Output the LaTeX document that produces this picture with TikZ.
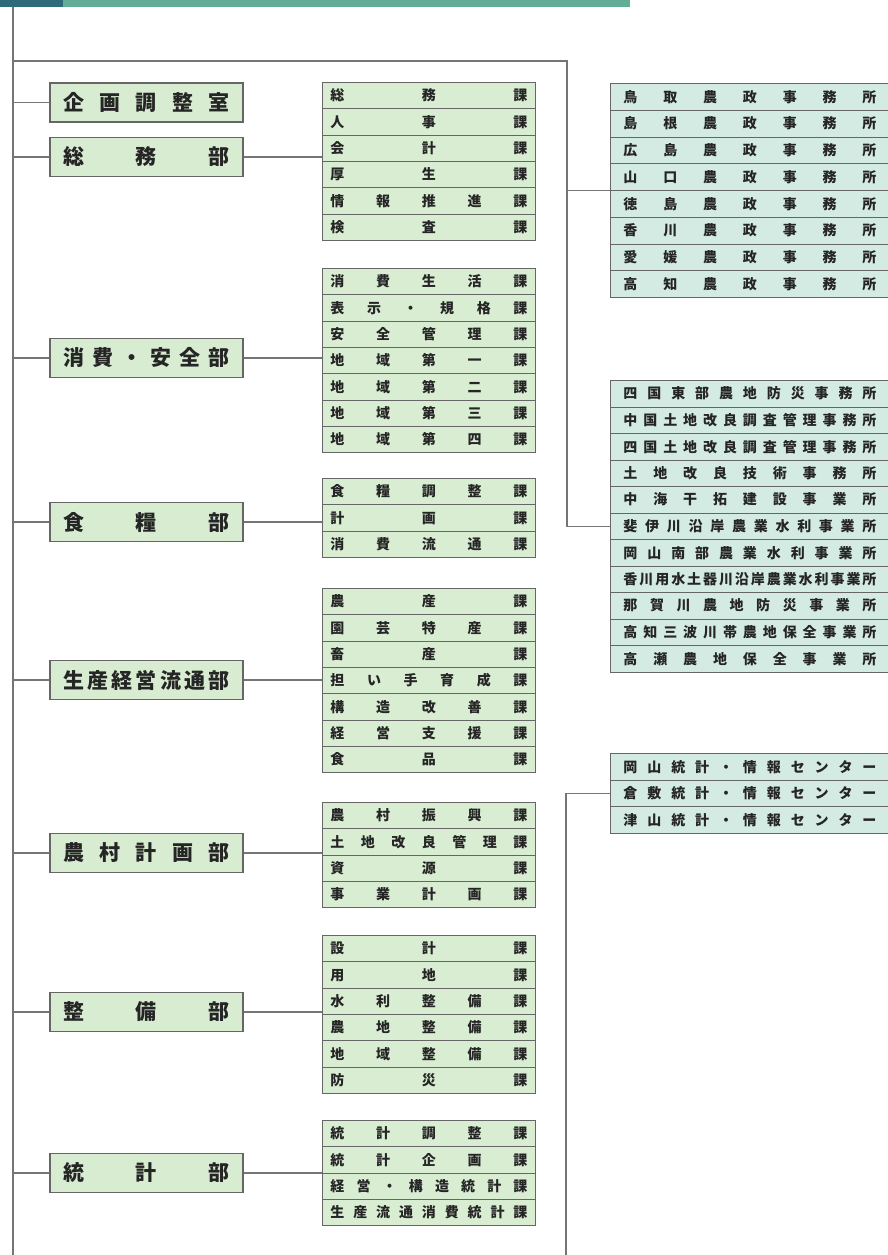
\documentclass[tikz,border=0pt]{standalone}
\usepackage{fontspec}
\newfontfamily\jp{Noto Sans CJK JP}
\definecolor{barteal}{HTML}{62AD97}
\definecolor{bardark}{HTML}{2F6A7A}
\definecolor{linegray}{HTML}{757575}
\definecolor{boxline}{HTML}{666666}
\definecolor{deptfill}{HTML}{D8ECD2}
\definecolor{midfill}{HTML}{D9EDD3}
\definecolor{rightfill}{HTML}{D4EBE4}
\definecolor{txt}{HTML}{252525}
\def\sprA#1#2\sprend{#1\ifx\relax#2\relax\else\hfill\sprA#2\sprend\fi}
\newcommand\spr[2]{\hbox to #1{\expandafter\sprA#2\sprend}}
\newcommand\sprd[2]{\hbox to #1{\sprA#2\sprend}}
\tikzset{
  conn/.style={draw=linegray, line width=1.3pt},
  dept/.style={draw=boxline, line width=1.2pt, fill=deptfill, minimum width=193pt,
    minimum height=39pt, inner sep=0pt, text=txt, font=\jp\bfseries\fontsize{21}{21}\selectfont},
  midrow/.style={draw=boxline, line width=0.9pt, fill=midfill, inner sep=0pt, text=txt,
    font=\jp\bfseries\fontsize{14}{14}\selectfont},
  rightrow/.style={draw=boxline, line width=0.9pt, fill=rightfill, inner sep=0pt, text=txt,
    font=\jp\bfseries\fontsize{14}{14}\selectfont},
  tblframe/.style={draw=boxline, line width=1.2pt, inner sep=0pt},
}
% #1 name, #2 left x, #3 top y, #4 width, #5 row height, #6 style, #7 text width, #8 rows, #9 list
\newcommand\mktable[9]{%
  \foreach \t [count=\i] in {#9} {
    \node[#6, minimum width=#4pt, minimum height=#5pt, anchor=north west]
      (#1-\i) at (#2, {#3+(\i-1)*#5}) {\spr{#7pt}{\t}};
  }
  \node[tblframe, minimum width=#4pt, minimum height={#8*#5}, anchor=north west] (#1) at (#2,#3) {};
}
\begin{document}
\begin{tikzpicture}[x=1pt, y=-1pt]
\useasboundingbox (0,0) rectangle (888,1255);
\fill[white] (0,0) rectangle (888,1255);
% header bar
\fill[barteal] (0,0) rectangle (630,7);
\fill[bardark] (0,0) rectangle (63,7);

% department boxes
\node[dept] (d1) at (146.5,102.5) {\sprd{167pt}{企画調整室}};
\node[dept] (d2) at (146.5,157)   {\sprd{167pt}{総務部}};
\node[dept] (d3) at (146.5,358)   {\sprd{167pt}{消費・安全部}};
\node[dept] (d4) at (146.5,522)   {\sprd{167pt}{食糧部}};
\node[dept] (d5) at (146.5,680)   {\sprd{167pt}{生産経営流通部}};
\node[dept] (d6) at (146.5,853)   {\sprd{167pt}{農村計画部}};
\node[dept] (d7) at (146.5,1012)  {\sprd{167pt}{整備部}};
\node[dept] (d8) at (146.5,1173)  {\sprd{167pt}{統計部}};

% middle tables
\mktable{t2}{322}{82}{213}{26.3}{midrow}{197}{6}{総務課,人事課,会計課,厚生課,情報推進課,検査課}
\mktable{t3}{322}{268}{213}{26.3}{midrow}{197}{7}{消費生活課,表示・規格課,安全管理課,地域第一課,地域第二課,地域第三課,地域第四課}
\mktable{t4}{322}{478}{213}{26.3}{midrow}{197}{3}{食糧調整課,計画課,消費流通課}
\mktable{t5}{322}{588}{213}{26.3}{midrow}{197}{7}{農産課,園芸特産課,畜産課,担い手育成課,構造改善課,経営支援課,食品課}
\mktable{t6}{322}{802}{213}{26.3}{midrow}{197}{4}{農村振興課,土地改良管理課,資源課,事業計画課}
\mktable{t7}{322}{935}{213}{26.3}{midrow}{197}{6}{設計課,用地課,水利整備課,農地整備課,地域整備課,防災課}
\mktable{t8}{322}{1120}{213}{26.3}{midrow}{197}{4}{統計調整課,統計企画課,経営・構造統計課,生産流通消費統計課}

% right tables
\mktable{r1}{610}{83}{279}{26.75}{rightrow}{253}{8}{鳥取農政事務所,島根農政事務所,広島農政事務所,山口農政事務所,徳島農政事務所,香川農政事務所,愛媛農政事務所,高知農政事務所}
\mktable{r2}{610}{380}{279}{26.5}{rightrow}{253}{11}{四国東部農地防災事務所,中国土地改良調査管理事務所,四国土地改良調査管理事務所,土地改良技術事務所,中海干拓建設事業所,斐伊川沿岸農業水利事業所,岡山南部農業水利事業所,香川用水土器川沿岸農業水利事業所,那賀川農地防災事業所,高知三波川帯農地保全事業所,高瀬農地保全事業所}
\mktable{r3}{610}{753}{279}{26.5}{rightrow}{253}{3}{岡山統計・情報センター,倉敷統計・情報センター,津山統計・情報センター}

% trunk
\coordinate (mtop) at (13,7);
\coordinate (mbot) at (13,1256);
\coordinate (h0) at (13,61);
\coordinate (j) at (567,61);
\coordinate (b) at (566,1256);
\draw[conn] (mtop) -- (mbot);
\foreach \d in {d1,d2,d3,d4,d5,d6,d7,d8} {\draw[conn] (\d.west -| mtop) -- (\d.west);}
\draw[conn] (d2.east) -- (d2.east -| t2.west);
\draw[conn] (d3.east) -- (d3.east -| t3.west);
\draw[conn] (d4.east) -- (d4.east -| t4.west);
\draw[conn] (d5.east) -- (d5.east -| t5.west);
\draw[conn] (d6.east) -- (d6.east -| t6.west);
\draw[conn] (d7.east) -- (d7.east -| t7.west);
\draw[conn] (d8.east) -- (d8.east -| t8.west);
\draw[conn] (h0) -- (j) -- (j |- r2.west) -- (r2.west);
\draw[conn] (r1.west -| j) -- (r1.west);
\draw[conn] (r3.west) -- (r3.west -| b) -- (b);
\end{tikzpicture}
\end{document}
